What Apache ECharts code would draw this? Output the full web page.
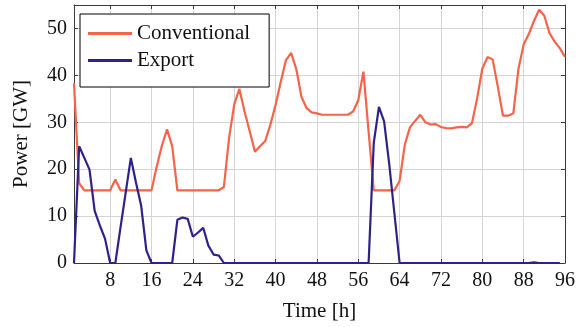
<!DOCTYPE html>
<html>
<head>
<meta charset="utf-8">
<script src="https://cdn.jsdelivr.net/npm/echarts@6/dist/echarts.min.js"></script>
<style>html,body{margin:0;padding:0;background:#fff;}#c{width:582px;height:327px;}</style>
</head>
<body>
<div id="c"></div>
<script>
var hours = [1,2,3,4,5,6,7,8,9,10,11,12,13,14,15,16,17,18,19,20,21,22,23,24,25,26,27,28,29,30,31,32,33,34,35,36,37,38,39,40,41,42,43,44,45,46,47,48,49,50,51,52,53,54,55,56,57,58,59,60,61,62,63,64,65,66,67,68,69,70,71,72,73,74,75,76,77,78,79,80,81,82,83,84,85,86,87,88,89,90,91,92,93,94,95,96];
var conventional = [38.3,17.0,15.5,15.5,15.5,15.5,15.5,15.5,17.8,15.5,15.5,15.5,15.5,15.5,15.5,15.5,20.5,25.0,28.5,24.9,15.5,15.5,15.5,15.5,15.5,15.5,15.5,15.5,15.5,16.2,26.6,33.8,37.1,32.3,28.1,23.7,24.9,26.0,29.5,33.7,38.6,43.2,44.8,41.4,35.5,33.0,32.1,31.9,31.6,31.6,31.6,31.6,31.6,31.6,32.3,34.7,40.8,28.0,15.5,15.5,15.5,15.5,15.5,17.5,25.2,28.9,30.3,31.6,30.0,29.5,29.6,29.0,28.75,28.7,28.9,29.0,28.9,29.8,35.1,41.4,43.9,43.4,37.6,31.4,31.4,31.9,41.4,46.6,48.8,51.6,54.0,52.7,49.0,47.2,45.8,43.9];
var exportPower = [0,24.9,22.4,19.9,11.1,8.0,5.2,0,0,7.6,15.0,22.4,17.1,12.2,2.7,0,0,0,0,0,9.2,9.7,9.4,5.6,6.5,7.5,3.7,1.8,1.6,0,0,0,0,0,0,0,0,0,0,0,0,0,0,0,0,0,0,0,0,0,0,0,0,0,0,0,0,0,25.6,33.3,30.2,21.0,10.5,0,0,0,0,0,0,0,0,0,0,0,0,0,0,0,0,0,0,0,0,0,0,0,0,0,0,0.15,0,0,0,0,0];
var xTicks = [8,16,24,32,40,48,56,64,72,80,88,96];
var yTicks = [0,10,20,30,40,50];

function pairs(ys){ return hours.map(function(h,i){ return [h, ys[i]]; }); }

var font = 'Liberation Serif';
var chart = echarts.init(document.getElementById('c'), null, {renderer:'canvas'});
var gridLineColor = '#d4d4d4';
var axisColor = '#3a3a3a';
chart.setOption({
  animation: false,
  backgroundColor: '#fff',
  textStyle: {fontFamily: font},
  grid: {left: 74, right: 17, top: 5, bottom: 61},
  legend: {
    orient: 'vertical', left: 80, top: 14,
    padding: [9, 19, 16, 8],
    borderColor: '#000', borderWidth: 1, backgroundColor: '#fff',
    icon: 'rect',
    itemWidth: 44, itemHeight: 3, itemGap: 6,
    textStyle: {fontFamily: font, fontSize: 21, color: '#111', lineHeight: 21},
    data: ['Conventional', 'Export']
  },
  xAxis: [{
    type: 'value', min: 1, max: 96,
    name: 'Time [h]', nameLocation: 'middle', nameGap: 38,
    nameTextStyle: {fontFamily: font, fontSize: 21, color: '#111'},
    axisLine: {show: true, onZero: false, lineStyle: {color: axisColor, width: 1}},
    axisTick: {show: true, inside: true, length: 4, customValues: xTicks, lineStyle: {color: axisColor}},
    axisLabel: {customValues: xTicks, fontFamily: font, fontSize: 20, color: '#111', margin: 8},
    splitLine: {show: true, lineStyle: {color: gridLineColor, width: 1}}
  }, {
    type: 'value', min: 1, max: 96, position: 'top',
    axisLine: {show: true, onZero: false, lineStyle: {color: axisColor, width: 1}},
    axisTick: {show: true, inside: true, length: 4, customValues: xTicks, lineStyle: {color: axisColor}},
    axisLabel: {show: false, customValues: xTicks},
    splitLine: {show: false}
  }],
  yAxis: [{
    type: 'value', min: 0, max: 55,
    name: 'Power [GW]', nameLocation: 'middle', nameGap: 42,
    nameTextStyle: {fontFamily: font, fontSize: 21, color: '#111'},
    axisLine: {show: true, onZero: false, lineStyle: {color: axisColor, width: 1}},
    axisTick: {show: true, inside: true, length: 4, customValues: yTicks, lineStyle: {color: axisColor}},
    axisLabel: {customValues: yTicks, fontFamily: font, fontSize: 20, color: '#111', margin: 7},
    splitLine: {show: true, lineStyle: {color: gridLineColor, width: 1}}
  }, {
    type: 'value', min: 0, max: 55, position: 'right',
    axisLine: {show: true, onZero: false, lineStyle: {color: axisColor, width: 1}},
    axisTick: {show: true, inside: true, length: 4, customValues: yTicks, lineStyle: {color: axisColor}},
    axisLabel: {show: false, customValues: yTicks},
    splitLine: {show: false}
  }],
  series: [{
    name: 'Conventional', type: 'line', data: pairs(conventional),
    symbol: 'none', smooth: false, clip: true,
    lineStyle: {color: '#F4634A', width: 2.2}, itemStyle: {color: '#F4634A'}, z: 3
  }, {
    name: 'Export', type: 'line', data: pairs(exportPower),
    symbol: 'none', smooth: false, clip: true,
    lineStyle: {color: '#2E2288', width: 2.2}, itemStyle: {color: '#2E2288'}, z: 4
  }]
});
</script>
</body>
</html>
